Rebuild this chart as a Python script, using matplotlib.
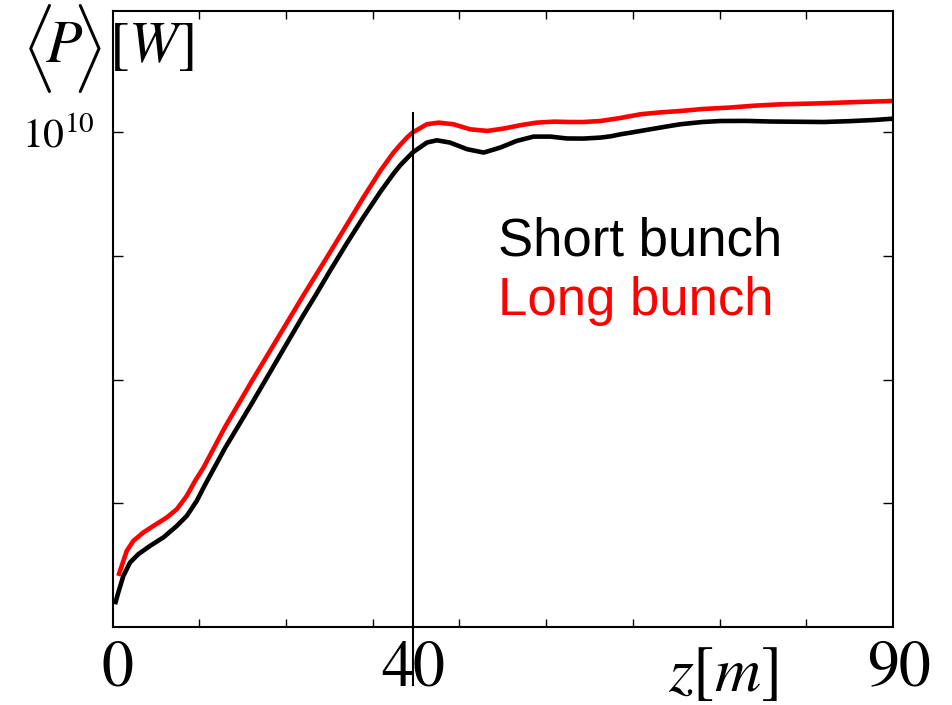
import numpy as np
import matplotlib
matplotlib.use("Agg")
import matplotlib.pyplot as plt
import matplotlib.transforms as mtransforms
from matplotlib.ticker import NullLocator, FixedLocator

# Average power along the undulator, log10(P / W)
z_short = [0.29, 0.67, 1.25, 2.02, 2.98, 4.33, 5.86, 7.41, 8.56, 9.71, 10.67, 13.0,
           16.0, 19.0, 22.0, 23.4, 25.0, 27.0, 28.9, 30.9, 32.4, 33.2, 34.6, 36.25,
           37.4, 38.9, 40.9, 42.8, 44.7, 46.6, 48.55, 50.5, 52.4, 54.3, 56.25, 57.5,
           58.6, 60.0, 62.0, 64.0, 65.5, 68.0, 70.1, 73.0, 75.9, 79.0, 82.0, 85.0,
           88.0, 90.0]
logp_short = [6.184, 6.279, 6.413, 6.521, 6.589, 6.656, 6.724, 6.817, 6.898, 7.019,
              7.15, 7.45, 7.80, 8.16, 8.52, 8.68, 8.87, 9.10, 9.31, 9.52, 9.665,
              9.735, 9.836, 9.917, 9.935, 9.917, 9.863, 9.836, 9.876, 9.93, 9.965,
              9.965, 9.95, 9.949, 9.957, 9.968, 9.984, 10.0, 10.024, 10.048, 10.065,
              10.083, 10.091, 10.092, 10.087, 10.085, 10.083, 10.09, 10.10, 10.11]

z_long = [0.67, 1.06, 1.64, 2.40, 3.55, 4.71, 6.25, 7.41, 8.56, 9.52, 10.5, 13.0,
          16.0, 19.0, 22.0, 25.0, 27.0, 28.9, 30.9, 32.4, 33.2, 33.95, 34.6, 36.25,
          37.6, 39.3, 41.25, 43.2, 45.1, 47.0, 48.9, 50.9, 52.8, 54.3, 56.25, 58.5,
          60.9, 63.0, 65.5, 68.0, 71.2, 74.0, 77.0, 81.6, 86.0, 90.0]
logp_long = [6.413, 6.494, 6.615, 6.696, 6.764, 6.817, 6.885, 6.952, 7.06, 7.181,
             7.29, 7.62, 7.98, 8.33, 8.68, 9.02, 9.25, 9.47, 9.69, 9.836, 9.90,
             9.957, 9.998, 10.065, 10.078, 10.065, 10.024, 10.011, 10.03, 10.057,
             10.078, 10.086, 10.083, 10.083, 10.091, 10.115, 10.146, 10.16, 10.172,
             10.188, 10.20, 10.215, 10.226, 10.234, 10.245, 10.253]

z_mark = 34.67                      # saturation position marker
xtick_pos = [0, z_mark, 90]
xtick_labels = ["0", "40", "90"]
xminor_pos = list(range(10, 90, 10))
ytick_pos = [1e7, 1e8, 1e9, 1e10]
ytick_labels = ["", "", "", r"$10^{10}$"]
series_names = ["Short bunch", "Long bunch"]
series_colors = ["black", "#ff0000"]

plt.rcParams["mathtext.fontset"] = "stix"
plt.rcParams["font.family"] = ["STIXGeneral", "DejaVu Serif"]

W, H = 952, 705
fig = plt.figure(figsize=(W / 100, H / 100), dpi=100)
ax = fig.add_axes([112.5 / W, 1 - 627 / H, (893 - 112.5) / W, (627 - 10.7) / H])

ax.plot(z_short, 10 ** np.array(logp_short), color=series_colors[0], lw=3.3,
        solid_capstyle="butt", solid_joinstyle="round")
ax.plot(z_long, 10 ** np.array(logp_long), color=series_colors[1], lw=3.3,
        solid_capstyle="butt", solid_joinstyle="round")

ax.set_yscale("log")
ax.set_xlim(0, 90)
ax.set_ylim(1e6, 10 ** 10.983)

# vertical marker line, running down through the "40" label
ax.plot([z_mark, z_mark], [0.834, -0.094], transform=ax.get_xaxis_transform(),
        color="black", lw=1.5, clip_on=False)

ax.set_xticks(xtick_pos, xtick_labels)
ax.xaxis.set_minor_locator(FixedLocator(xminor_pos))
ax.set_yticks(ytick_pos, ytick_labels)
ax.yaxis.set_minor_locator(NullLocator())

ax.tick_params(axis="x", which="major", length=0, pad=10, labelsize=46)
ax.tick_params(axis="x", which="minor", direction="in", length=6, width=1,
               top=True, bottom=True)
ax.tick_params(axis="y", which="major", direction="in", length=7, width=1,
               left=True, right=True, pad=13, labelsize=30)

offsets = [5, 0, 6]
for lab, dx in zip(ax.get_xticklabels(), offsets):
    lab.set_transform(lab.get_transform() +
                      mtransforms.ScaledTranslation(dx / 100, 0, fig.dpi_scale_trans))

for sp in ax.spines.values():
    sp.set_linewidth(1.5)

# y-axis label: tall thin angle brackets around P, then the unit
fig.text(21 / W, 1 - 48 / H, r"$\langle$", fontsize=53, math_fontfamily="cm",
         ha="left", va="center")
fig.text(45 / W, 1 - 62 / H, r"$P$", fontsize=43, ha="left", va="baseline")
fig.text(101 / W, 1 - 48 / H, r"$\rangle$", fontsize=53, math_fontfamily="cm",
         ha="right", va="center")
fig.text(109 / W, 1 - 62 / H, r"$[W]$", fontsize=42, ha="left", va="baseline")

fig.text(668 / W, 1 - 691 / H, r"$z[m]$", fontsize=46, ha="left", va="baseline")

fig.text(498 / W, 1 - 255 / H, series_names[0], color=series_colors[0],
         fontsize=38, family="Liberation Sans", ha="left", va="baseline")
fig.text(498 / W, 1 - 315 / H, series_names[1], color=series_colors[1],
         fontsize=38, family="Liberation Sans", ha="left", va="baseline")

fig.savefig("out.png", dpi=100)
